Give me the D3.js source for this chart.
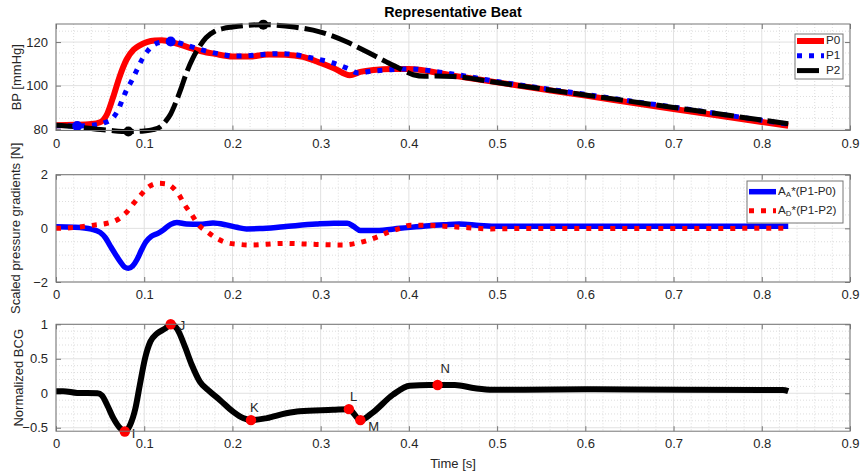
<!DOCTYPE html>
<html>
<head>
<meta charset="utf-8">
<script src="https://cdn.jsdelivr.net/npm/d3@7"></script>
<style>
  html, body { margin: 0; padding: 0; background: #fff; }
  svg { display: block; font-family: "Liberation Sans", Arial, Helvetica, sans-serif; }
</style>
</head>
<body>
<svg id="chart" width="860" height="474"></svg>
<script>
// ---- Blood pressure waveforms (top panel) ----
const p0Time = [0, 0.02, 0.04, 0.05, 0.058, 0.065, 0.072, 0.08, 0.088, 0.095, 0.103, 0.112, 0.12, 0.135, 0.15, 0.165, 0.18, 0.2, 0.22, 0.24, 0.26, 0.28, 0.3, 0.315, 0.333, 0.345, 0.36, 0.38, 0.4, 0.45, 0.5, 0.6, 0.7, 0.8, 0.83];
const p0Values = [81.8, 82.0, 82.4, 83.2, 87, 95, 104, 112, 116.5, 118.5, 120, 120.7, 120.8, 119.5, 117.6, 115.8, 114.6, 113.4, 113.4, 114.3, 114.2, 113.2, 110.4, 108, 104.8, 106.3, 107.2, 107.6, 107.6, 104.6, 101.5, 95.4, 89.3, 83.3, 81.6];

const p1Time = [0, 0.024, 0.045, 0.055, 0.064, 0.07, 0.075, 0.08, 0.086, 0.092, 0.098, 0.104, 0.11, 0.12, 0.13, 0.15, 0.17, 0.19, 0.2, 0.215, 0.235, 0.253, 0.27, 0.29, 0.314, 0.33, 0.343, 0.357, 0.375, 0.4, 0.435, 0.5, 0.6, 0.7, 0.8, 0.83];
const p1Values = [81.6, 81.5, 82, 83, 85, 88.5, 93.3, 98, 102.4, 107.5, 112.4, 116, 118.5, 120, 120.3, 118.3, 115.9, 114.2, 113.6, 113.7, 114.3, 114.7, 114.3, 112.7, 110.4, 108, 105.8, 106.6, 107.2, 107.7, 106.2, 101.9, 96.0, 90.1, 84.1, 82.3];

const p2Time = [0, 0.02, 0.04, 0.06, 0.082, 0.1, 0.11, 0.118, 0.124, 0.13, 0.136, 0.142, 0.148, 0.155, 0.162, 0.17, 0.18, 0.19, 0.2, 0.235, 0.27, 0.3, 0.33, 0.35, 0.375, 0.39, 0.405, 0.418, 0.43, 0.45, 0.5, 0.6, 0.7, 0.8, 0.83];
const p2Values = [81.8, 81.2, 80.3, 79.5, 78.9, 79.2, 79.8, 81, 83.5, 87, 92.5, 99, 106, 112.5, 117.5, 122, 125, 126.3, 126.9, 128, 126.9, 124.6, 120, 116, 110.8, 107.8, 105, 104.3, 104.4, 104.2, 101.4, 95.7, 90.0, 84.2, 82.5];

// highlighted samples on P1 and P2
const p1MarkTime = [0.024, 0.13];
const p1MarkValues = [81.5, 120.3];
const p2MarkTime = [0.082, 0.235];
const p2MarkValues = [78.9, 128.0];

// ---- Scaled pressure gradients (middle panel) ----
const gradATime = [0, 0.02, 0.04, 0.05, 0.056, 0.062, 0.068, 0.073, 0.078, 0.082, 0.087, 0.092, 0.097, 0.102, 0.108, 0.116, 0.122, 0.13, 0.137, 0.148, 0.163, 0.178, 0.193, 0.205, 0.216, 0.231, 0.258, 0.295, 0.315, 0.33, 0.337, 0.345, 0.363, 0.39, 0.423, 0.44, 0.457, 0.48, 0.5, 0.83];
const gradAValues = [0.06, 0.04, -0.03, -0.15, -0.35, -0.68, -1.0, -1.25, -1.45, -1.49, -1.4, -1.15, -0.8, -0.5, -0.3, -0.18, -0.05, 0.15, 0.22, 0.16, 0.15, 0.2, 0.13, 0.04, -0.02, -0.01, 0.06, 0.16, 0.19, 0.19, 0.08, -0.08, -0.08, 0.0, 0.1, 0.13, 0.16, 0.11, 0.08, 0.08];

const gradDTime = [0, 0.02, 0.043, 0.058, 0.069, 0.08, 0.088, 0.096, 0.105, 0.116, 0.125, 0.133, 0.139, 0.146, 0.154, 0.161, 0.171, 0.182, 0.193, 0.208, 0.22, 0.258, 0.295, 0.325, 0.34, 0.352, 0.365, 0.376, 0.39, 0.402, 0.416, 0.44, 0.467, 0.493, 0.52, 0.83];
const gradDValues = [0.0, 0.03, 0.12, 0.19, 0.31, 0.6, 0.93, 1.24, 1.55, 1.68, 1.66, 1.5, 1.27, 0.87, 0.5, 0.15, -0.12, -0.37, -0.53, -0.6, -0.62, -0.56, -0.6, -0.62, -0.56, -0.46, -0.31, -0.15, 0.0, 0.12, 0.12, 0.08, 0.025, -0.02, -0.01, 0.0];

// ---- Normalized BCG (bottom panel) ----
const bcgTime = [0, 0.008, 0.024, 0.047, 0.052, 0.058, 0.065, 0.073, 0.078, 0.084, 0.09, 0.095, 0.101, 0.107, 0.114, 0.124, 0.13, 0.137, 0.146, 0.154, 0.163, 0.174, 0.186, 0.201, 0.212, 0.221, 0.239, 0.261, 0.276, 0.314, 0.332, 0.345, 0.359, 0.382, 0.401, 0.423, 0.4325, 0.452, 0.475, 0.495, 0.53, 0.6, 0.713, 0.824, 0.83];
const bcgValues = [0.03, 0.03, 0.005, 0.0, -0.03, -0.17, -0.36, -0.51, -0.555, -0.46, -0.22, 0.12, 0.51, 0.75, 0.86, 0.94, 1.0, 0.94, 0.68, 0.41, 0.17, 0.03, -0.1, -0.27, -0.36, -0.39, -0.36, -0.29, -0.26, -0.24, -0.23, -0.39, -0.28, -0.02, 0.11, 0.12, 0.12, 0.12, 0.072, 0.05, 0.05, 0.058, 0.05, 0.048, 0.03];

// fiducial points of the BCG wave
const waveNames = ["I", "J", "K", "L", "M", "N"];
const waveTime = [0.078, 0.13, 0.221, 0.332, 0.345, 0.4325];
const waveValues = [-0.555, 1.0, -0.39, -0.23, -0.39, 0.12];

// ---- Axis ticks ----
const timeTicks = [0, 0.1, 0.2, 0.3, 0.4, 0.5, 0.6, 0.7, 0.8, 0.9];
const bpTicks = [80, 100, 120];
const gradTicks = [-2, 0, 2];
const bcgTicks = [-0.5, 0, 0.5, 1];

// ---------------------------------------------------------------
const svg = d3.select("#chart");
const axisColor = "#767676";
const labelColor = "#262626";
const zip = (t, v) => t.map((d, i) => [d, v[i]]);

const x = d3.scaleLinear().domain([0, 0.9]).range([56, 850]);

const panels = [
  { top: 24, bottom: 130.5, domain: [79.4, 128.3], ticks: bpTicks, minorStep: 5, label: "BP [mmHg]", labelX: 18 },
  { top: 174.7, bottom: 282, domain: [-2, 2], ticks: gradTicks, minorStep: 0.5, label: "Scaled pressure gradients [N]", labelX: 17 },
  { top: 324.3, bottom: 431.2, domain: [-0.55, 1], ticks: bcgTicks, minorStep: 0.1, label: "Normalized BCG", labelX: 20 }
];

panels.forEach(p => {
  p.y = d3.scaleLinear().domain(p.domain).range([p.bottom, p.top]);
  const g = svg.append("g");
  p.g = g;

  // minor grid
  const xMinor = d3.range(0, 0.9001, 0.02).filter(v => Math.abs(v * 10 - Math.round(v * 10)) > 1e-6);
  const y0 = Math.ceil(p.domain[0] / p.minorStep - 1e-9) * p.minorStep;
  const yMinor = d3.range(y0, p.domain[1] + 1e-9, p.minorStep)
    .filter(v => !p.ticks.some(t => Math.abs(t - v) < 1e-6));
  g.selectAll(".xminor").data(xMinor).join("line")
    .attr("x1", d => x(d)).attr("x2", d => x(d))
    .attr("y1", p.top).attr("y2", p.bottom)
    .attr("stroke", "#d4d4d4").attr("stroke-width", 0.8).attr("stroke-dasharray", "1,2");
  g.selectAll(".yminor").data(yMinor).join("line")
    .attr("x1", x(0)).attr("x2", x(0.9))
    .attr("y1", d => p.y(d)).attr("y2", d => p.y(d))
    .attr("stroke", "#d4d4d4").attr("stroke-width", 0.8).attr("stroke-dasharray", "1,2");

  // major grid
  g.selectAll(".xmajor").data(timeTicks).join("line")
    .attr("x1", d => x(d)).attr("x2", d => x(d))
    .attr("y1", p.top).attr("y2", p.bottom)
    .attr("stroke", "#e1e1e1").attr("stroke-width", 1);
  g.selectAll(".ymajor").data(p.ticks).join("line")
    .attr("x1", x(0)).attr("x2", x(0.9))
    .attr("y1", d => p.y(d)).attr("y2", d => p.y(d))
    .attr("stroke", "#e1e1e1").attr("stroke-width", 1);

  // axes with mirrored inward ticks
  const bottomAxis = d3.axisBottom(x).tickValues(timeTicks).tickSizeInner(-5).tickSizeOuter(0).tickPadding(8).tickFormat(d3.format("~g"));
  const topAxis = d3.axisTop(x).tickValues(timeTicks).tickSizeInner(-5).tickSizeOuter(0).tickFormat("");
  const leftAxis = d3.axisLeft(p.y).tickValues(p.ticks).tickSizeInner(-5).tickSizeOuter(0).tickPadding(8).tickFormat(d3.format("~g"));
  const rightAxis = d3.axisRight(p.y).tickValues(p.ticks).tickSizeInner(-5).tickSizeOuter(0).tickFormat("");

  p.axes = [
    g.append("g").attr("transform", `translate(0,${p.bottom})`).call(bottomAxis),
    g.append("g").attr("transform", `translate(0,${p.top})`).call(topAxis),
    g.append("g").attr("transform", `translate(${x(0)},0)`).call(leftAxis),
    g.append("g").attr("transform", `translate(${x(0.9)},0)`).call(rightAxis)
  ];
  p.axes.forEach(a => {
    a.select(".domain").remove();
    a.selectAll(".tick line").attr("stroke", axisColor);
    a.selectAll(".tick text").attr("fill", labelColor).attr("font-size", 13)
      .attr("font-family", "'Liberation Sans', Arial, Helvetica, sans-serif");
  });

  // y label
  svg.append("text")
    .attr("transform", `translate(${p.labelX},${(p.top + p.bottom) / 2}) rotate(-90)`)
    .attr("text-anchor", "middle").attr("dominant-baseline", "middle")
    .attr("font-size", 13).attr("fill", labelColor)
    .text(p.label);
});

const line = y => d3.line().x(d => x(d[0])).y(d => y(d[1])).curve(d3.curveMonotoneX);

// ---- top panel: BP ----
const bpPanel = panels[0];
const bpSeries = [
  { name: "P0", data: zip(p0Time, p0Values), color: "#ff0000", width: 6, dash: null },
  { name: "P1", data: zip(p1Time, p1Values), color: "#0000ff", width: 5, dash: "5,7" },
  { name: "P2", data: zip(p2Time, p2Values), color: "#000000", width: 5, dash: "22,6" }
];
bpSeries.forEach(s => {
  bpPanel.g.append("path").datum(s.data)
    .attr("d", line(bpPanel.y))
    .attr("fill", "none").attr("stroke", s.color).attr("stroke-width", s.width)
    .attr("stroke-dasharray", s.dash).attr("stroke-linecap", "butt").attr("stroke-linejoin", "round");
});
bpPanel.g.selectAll(".p1mark").data(zip(p1MarkTime, p1MarkValues)).join("circle")
  .attr("cx", d => x(d[0])).attr("cy", d => bpPanel.y(d[1])).attr("r", 5).attr("fill", "#0000ff");
bpPanel.g.selectAll(".p2mark").data(zip(p2MarkTime, p2MarkValues)).join("circle")
  .attr("cx", d => x(d[0])).attr("cy", d => bpPanel.y(d[1])).attr("r", 5).attr("fill", "#000000");

// ---- middle panel: gradients ----
const gradPanel = panels[1];
const gradSeries = [
  { data: zip(gradATime, gradAValues), color: "#0000ff", width: 5.5, dash: null },
  { data: zip(gradDTime, gradDValues), color: "#ff0000", width: 5, dash: "5,7" }
];
gradSeries.forEach(s => {
  gradPanel.g.append("path").datum(s.data)
    .attr("d", line(gradPanel.y))
    .attr("fill", "none").attr("stroke", s.color).attr("stroke-width", s.width)
    .attr("stroke-dasharray", s.dash).attr("stroke-linecap", "butt").attr("stroke-linejoin", "round");
});

// ---- bottom panel: BCG ----
const bcgPanel = panels[2];
bcgPanel.g.append("path").datum(zip(bcgTime, bcgValues))
  .attr("d", line(bcgPanel.y))
  .attr("fill", "none").attr("stroke", "#000").attr("stroke-width", 6)
  .attr("stroke-linejoin", "round");
const wave = waveNames.map((n, i) => ({ name: n, t: waveTime[i], v: waveValues[i] }));
bcgPanel.g.selectAll(".wavept").data(wave).join("circle")
  .attr("cx", d => x(d.t)).attr("cy", d => bcgPanel.y(d.v)).attr("r", 5.2).attr("fill", "#ff0000");
// label offsets in pixels relative to each point
const waveLabelOffset = { I: [7, 3], J: [8, 2], K: [-1, -12], L: [1, -12], M: [8, 7], N: [3, -15] };
bcgPanel.g.selectAll(".wavelbl").data(wave).join("text")
  .attr("x", d => x(d.t) + waveLabelOffset[d.name][0])
  .attr("y", d => bcgPanel.y(d.v) + waveLabelOffset[d.name][1])
  .attr("dominant-baseline", "middle")
  .attr("font-size", 13).attr("fill", labelColor)
  .text(d => d.name);

// ---- axes boxes on top of the data ----
panels.forEach(p => {
  svg.append("rect")
    .attr("x", x(0)).attr("y", p.top)
    .attr("width", x(0.9) - x(0)).attr("height", p.bottom - p.top)
    .attr("fill", "none").attr("stroke", axisColor).attr("stroke-width", 1);
});

// ---- legends ----
function legend(box, entries) {
  const g = svg.append("g");
  g.append("rect").attr("x", box.x).attr("y", box.y).attr("width", box.w).attr("height", box.h)
    .attr("fill", "#fff").attr("stroke", axisColor).attr("stroke-width", 1);
  entries.forEach((e, i) => {
    const yy = box.y + box.first + i * box.step;
    g.append("line").attr("x1", box.x + 2).attr("x2", box.x + 2 + box.sample)
      .attr("y1", yy).attr("y2", yy)
      .attr("stroke", e.color).attr("stroke-width", e.width)
      .attr("stroke-dasharray", e.dash);
    const t = g.append("text").attr("x", box.x + 4 + box.sample).attr("y", yy)
      .attr("dominant-baseline", "middle").attr("font-size", 11.7).attr("fill", labelColor);
    e.parts.forEach(part => {
      if (part.sub) {
        t.append("tspan").attr("font-size", 8).attr("dy", 3.5).text(part.text);
      } else {
        t.append("tspan").attr("dy", part.after ? -3.5 : 0).text(part.text);
      }
    });
  });
}

legend({ x: 795, y: 34, w: 48, h: 45, first: 7, step: 14.8, sample: 27 },
  bpSeries.map(s => ({ color: s.color, width: s.width, dash: s.dash, parts: [{ text: s.name }] })));

legend({ x: 747, y: 181, w: 96, h: 42, first: 10.7, step: 19, sample: 27 }, [
  { color: "#0000ff", width: 5.5, dash: null, parts: [{ text: "A" }, { text: "A", sub: true }, { text: "*(P1-P0)", after: true }] },
  { color: "#ff0000", width: 5, dash: "5,7", parts: [{ text: "A" }, { text: "D", sub: true }, { text: "*(P1-P2)", after: true }] }
]);

// ---- title and x label ----
svg.append("text").attr("x", (x(0) + x(0.9)) / 2).attr("y", 13)
  .attr("text-anchor", "middle").attr("dominant-baseline", "middle")
  .attr("font-size", 14.3).attr("font-weight", "bold").attr("fill", "#000")
  .text("Representative Beat");
svg.append("text").attr("x", (x(0) + x(0.9)) / 2).attr("y", 465)
  .attr("text-anchor", "middle").attr("dominant-baseline", "middle")
  .attr("font-size", 13).attr("fill", labelColor)
  .text("Time [s]");
</script>
</body>
</html>
